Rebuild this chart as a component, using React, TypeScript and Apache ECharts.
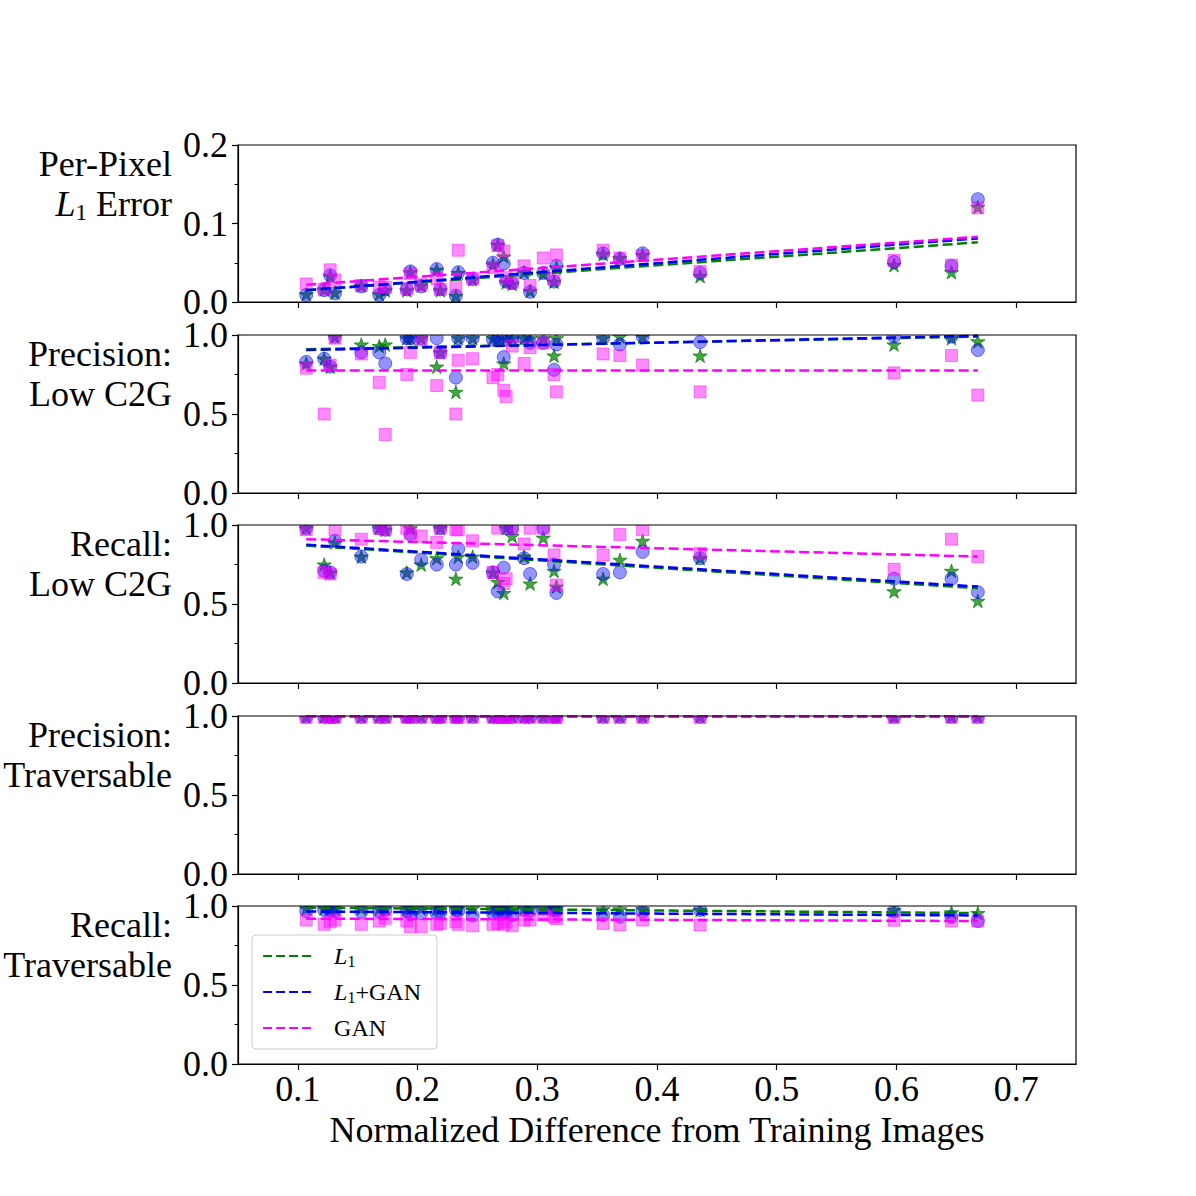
import React, { useEffect, useRef } from "react";
import * as echarts from "echarts";

// x: normalized difference from training images (one value per test image)
const X = [0.107, 0.122, 0.127, 0.131, 0.153, 0.168, 0.173, 0.191, 0.194, 0.203, 0.216, 0.219, 0.232, 0.234, 0.246, 0.263, 0.267, 0.272, 0.274, 0.279, 0.289, 0.294, 0.305, 0.314, 0.316, 0.355, 0.369, 0.388, 0.436, 0.598, 0.646, 0.668];

// Panel 1: per-pixel L1 error
const ERR_L1 = [0.010, 0.016, 0.033, 0.012, 0.021, 0.010, 0.015, 0.015, 0.038, 0.021, 0.041, 0.015, 0.008, 0.037, 0.029, 0.048, 0.073, 0.058, 0.025, 0.023, 0.038, 0.014, 0.036, 0.026, 0.044, 0.061, 0.056, 0.060, 0.033, 0.047, 0.038, 0.121];
const ERR_L1GAN = [0.009, 0.015, 0.034, 0.011, 0.020, 0.009, 0.016, 0.016, 0.039, 0.020, 0.042, 0.016, 0.008, 0.038, 0.029, 0.050, 0.073, 0.049, 0.026, 0.024, 0.037, 0.013, 0.037, 0.026, 0.046, 0.062, 0.055, 0.062, 0.037, 0.051, 0.046, 0.131];
const ERR_GAN = [0.023, 0.016, 0.041, 0.028, 0.021, 0.019, 0.019, 0.017, 0.036, 0.022, 0.030, 0.016, 0.020, 0.066, 0.030, 0.044, 0.072, 0.065, 0.031, 0.025, 0.046, 0.021, 0.056, 0.030, 0.060, 0.066, 0.056, 0.059, 0.039, 0.053, 0.047, 0.120];

// Panel 2: precision, low C2G
const PREC_C2G_L1 = [0.82, 0.85, 0.80, 0.99, 0.94, 0.93, 0.94, 0.98, 0.98, 0.98, 0.80, 0.89, 0.64, 0.98, 0.98, 0.98, 0.97, 0.82, 0.98, 0.98, 0.98, 0.98, 0.98, 0.87, 0.98, 0.98, 0.99, 0.99, 0.87, 0.94, 0.98, 0.96];
const PREC_C2G_L1GAN = [0.83, 0.85, 0.80, 0.99, 0.89, 0.89, 0.82, 0.98, 0.98, 0.98, 0.98, 0.89, 0.73, 0.98, 0.98, 0.97, 0.97, 0.86, 0.97, 0.98, 0.98, 0.95, 0.95, 0.78, 0.94, 0.98, 0.94, 0.99, 0.955, 0.99, 0.99, 0.905];
const PREC_C2G_GAN = [0.79, 0.50, 0.81, 0.98, 0.88, 0.70, 0.37, 0.75, 0.89, 0.97, 0.68, 0.89, 0.50, 0.84, 0.85, 0.73, 0.75, 0.65, 0.61, 0.93, 0.82, 0.92, 0.95, 0.75, 0.64, 0.88, 0.87, 0.81, 0.64, 0.76, 0.87, 0.62];

// Panel 3: recall, low C2G
const REC_C2G_L1 = [0.98, 0.75, 0.70, 0.89, 0.80, 0.98, 0.97, 0.70, 0.98, 0.75, 0.79, 0.98, 0.66, 0.80, 0.80, 0.70, 0.64, 0.57, 0.98, 0.93, 0.80, 0.63, 0.92, 0.71, 0.61, 0.66, 0.78, 0.90, 0.79, 0.58, 0.71, 0.52];
const REC_C2G_L1GAN = [0.98, 0.71, 0.70, 0.90, 0.80, 0.98, 0.97, 0.69, 0.94, 0.78, 0.75, 0.98, 0.75, 0.85, 0.76, 0.70, 0.58, 0.73, 0.98, 0.98, 0.79, 0.69, 0.98, 0.75, 0.57, 0.69, 0.70, 0.83, 0.79, 0.66, 0.66, 0.575];
const REC_C2G_GAN = [0.97, 0.70, 0.69, 0.97, 0.91, 0.98, 0.97, 0.98, 0.95, 0.93, 0.89, 0.98, 0.97, 0.97, 0.90, 0.70, 0.98, 0.63, 0.66, 0.98, 0.88, 0.98, 0.98, 0.81, 0.62, 0.81, 0.94, 0.97, 0.82, 0.72, 0.91, 0.80];

// Panel 4: precision, traversable
const PREC_TR_L1 = [0.996, 0.996, 0.996, 0.996, 0.996, 0.996, 0.996, 0.996, 0.996, 0.996, 0.996, 0.996, 0.996, 0.996, 0.996, 0.996, 0.996, 0.996, 0.996, 0.996, 0.996, 0.996, 0.996, 0.996, 0.996, 0.996, 0.996, 0.996, 0.996, 0.996, 0.996, 0.996];
const PREC_TR_L1GAN = [0.995, 0.995, 0.995, 0.995, 0.995, 0.995, 0.995, 0.995, 0.995, 0.995, 0.995, 0.995, 0.995, 0.995, 0.995, 0.995, 0.995, 0.995, 0.995, 0.995, 0.995, 0.995, 0.995, 0.995, 0.995, 0.995, 0.995, 0.995, 0.995, 0.995, 0.995, 0.995];
const PREC_TR_GAN = [0.993, 0.993, 0.993, 0.993, 0.993, 0.993, 0.993, 0.993, 0.993, 0.993, 0.993, 0.993, 0.993, 0.993, 0.993, 0.993, 0.993, 0.993, 0.993, 0.993, 0.993, 0.993, 0.993, 0.993, 0.993, 0.993, 0.993, 0.993, 0.993, 0.993, 0.993, 0.993];

// Panel 5: recall, traversable
const REC_TR_L1 = [0.985, 0.985, 0.985, 0.985, 0.985, 0.985, 0.985, 0.985, 0.985, 0.985, 0.985, 0.985, 0.985, 0.985, 0.985, 0.985, 0.985, 0.985, 0.985, 0.985, 0.985, 0.985, 0.985, 0.985, 0.985, 0.98, 0.98, 0.98, 0.975, 0.975, 0.96, 0.955];
const REC_TR_L1GAN = [0.968, 0.975, 0.97, 0.968, 0.964, 0.964, 0.975, 0.968, 0.947, 0.954, 0.954, 0.96, 0.975, 0.97, 0.94, 0.954, 0.96, 0.954, 0.96, 0.943, 0.975, 0.97, 0.985, 0.975, 0.97, 0.943, 0.932, 0.964, 0.975, 0.965, 0.93, 0.905];
const REC_TR_GAN = [0.911, 0.884, 0.90, 0.911, 0.884, 0.905, 0.922, 0.905, 0.869, 0.869, 0.884, 0.89, 0.90, 0.884, 0.875, 0.884, 0.89, 0.884, 0.90, 0.875, 0.911, 0.911, 0.943, 0.932, 0.92, 0.89, 0.88, 0.911, 0.88, 0.91, 0.905, 0.905];

// Trend (fit) lines, read at the ends of the x range
const TREND_X = [0.107, 0.668];
const TR_ERR = { L1: [0.015, 0.076], L1GAN: [0.015, 0.081], GAN: [0.022, 0.083] };
const TR_PREC_C2G = { L1: [0.91, 0.99], L1GAN: [0.905, 0.995], GAN: [0.775, 0.775] };
const TR_REC_C2G = { L1: [0.87, 0.60], L1GAN: [0.875, 0.61], GAN: [0.91, 0.80] };
const TR_PREC_TR = { L1: [0.999, 0.999], L1GAN: [0.999, 0.999], GAN: [0.998, 0.998] };
const TR_REC_TR = { L1: [0.99, 0.955], L1GAN: [0.965, 0.94], GAN: [0.92, 0.905] };

const X_TICKS = [0.1, 0.2, 0.3, 0.4, 0.5, 0.6, 0.7];
const METHODS = ["L1", "L1+GAN", "GAN"];

const PANELS = [
  { label: "{t|Per-Pixel}\n{i|L}{s|1}{t| Error}", max: 0.2, interval: 0.1, data: [ERR_L1, ERR_L1GAN, ERR_GAN], trend: TR_ERR },
  { label: "{t|Precision:}\n{t|Low C2G}", max: 1.0, interval: 0.5, data: [PREC_C2G_L1, PREC_C2G_L1GAN, PREC_C2G_GAN], trend: TR_PREC_C2G },
  { label: "{t|Recall:}\n{t|Low C2G}", max: 1.0, interval: 0.5, data: [REC_C2G_L1, REC_C2G_L1GAN, REC_C2G_GAN], trend: TR_REC_C2G },
  { label: "{t|Precision:}\n{t|Traversable}", max: 1.0, interval: 0.5, data: [PREC_TR_L1, PREC_TR_L1GAN, PREC_TR_GAN], trend: TR_PREC_TR },
  { label: "{t|Recall:}\n{t|Traversable}", max: 1.0, interval: 0.5, data: [REC_TR_L1, REC_TR_L1GAN, REC_TR_GAN], trend: TR_REC_TR },
];

const GRID_TOPS = [145, 335, 525, 716, 906];
const GRID_H = 158;
const FONT = "'Liberation Serif', 'DejaVu Serif', serif";
const FS = 36;

const COLORS = ["#008000", "#0000ff", "#ff00ff"];
const FILLS = ["rgba(0,128,0,0.72)", "rgba(0,0,255,0.42)", "rgba(255,0,255,0.45)"];
const EDGES = ["rgba(0,128,0,0.72)", "rgba(0,0,255,0.5)", "rgba(255,0,255,0.45)"];

// unit star outline (outer radius 1, inner 0.382), used as marker shape
const STAR_UNIT: number[][] = [];
for (let k = 0; k < 10; k++) {
  const r = k % 2 === 0 ? 1 : 0.382;
  const a = -Math.PI / 2 + (k * Math.PI) / 5;
  STAR_UNIT.push([r * Math.cos(a), r * Math.sin(a)]);
}

const RICH = {
  t: { fontSize: FS, fontFamily: FONT, color: "#000", lineHeight: 40 },
  i: { fontSize: FS, fontFamily: FONT, fontStyle: "italic", color: "#000", lineHeight: 40 },
  s: { fontSize: 23, fontFamily: FONT, color: "#000", lineHeight: 23, verticalAlign: "bottom" },
};

const LEG_RICH = {
  t: { fontSize: 24, fontFamily: FONT, color: "#000", lineHeight: 26 },
  i: { fontSize: 24, fontFamily: FONT, fontStyle: "italic", color: "#000", lineHeight: 26 },
  s: { fontSize: 16, fontFamily: FONT, color: "#000", lineHeight: 16, verticalAlign: "bottom" },
};

function markerRenderer(mi: number) {
  return (params: any, api: any) => {
    const p = api.coord([api.value(0), api.value(1)]);
    const style = { fill: FILLS[mi], stroke: EDGES[mi], lineWidth: 1 };
    if (mi === 0) {
      return {
        type: "polygon",
        shape: { points: STAR_UNIT.map(([dx, dy]) => [p[0] + dx * 7.5, p[1] + dy * 7.5 + 0.8]) },
        style,
      };
    }
    if (mi === 1) {
      return { type: "circle", shape: { cx: p[0], cy: p[1], r: 6.5 }, style };
    }
    return { type: "rect", shape: { x: p[0] - 6, y: p[1] - 6, width: 12, height: 12 }, style };
  };
}

export default function App() {
  const ref = useRef<HTMLDivElement>(null);
  useEffect(() => {
    const chart = echarts.init(ref.current!, null, { renderer: "svg" });
    const grids: any[] = [];
    const xAxes: any[] = [];
    const yAxes: any[] = [];
    const series: any[] = [];
    PANELS.forEach((p, gi) => {
      grids.push({
        left: 238,
        width: 838,
        top: GRID_TOPS[gi],
        height: gi === 0 ? 157 : GRID_H,
        show: true,
        borderColor: "#000",
        borderWidth: 1.2,
        backgroundColor: "transparent",
        z: 20,
      });
      const last = gi === PANELS.length - 1;
      xAxes.push({
        type: "value",
        gridIndex: gi,
        min: 0.05,
        max: 0.75,
        axisLine: { show: true, lineStyle: { color: "#000", width: 1.2 } },
        axisTick: { show: true, length: 6, customValues: X_TICKS, lineStyle: { color: "#000", width: 1.2 } },
        axisLabel: {
          show: last,
          customValues: X_TICKS,
          fontSize: FS,
          fontFamily: FONT,
          color: "#000",
          margin: 7,
          formatter: (v: number) => v.toFixed(1),
        },
        splitLine: { show: false },
        name: last ? "Normalized Difference from Training Images" : "",
        nameLocation: "middle",
        nameGap: 48,
        nameTextStyle: { fontSize: FS, fontFamily: FONT, color: "#000" },
      });
      yAxes.push({
        type: "value",
        gridIndex: gi,
        min: 0,
        max: p.max,
        interval: p.interval,
        axisLine: { show: true, lineStyle: { color: "#000", width: 1.2 } },
        axisTick: { show: true, length: 6, lineStyle: { color: "#000", width: 1.2 } },
        minorTick: { show: true, splitNumber: 2, length: 3.5, lineStyle: { color: "#000", width: 1 } },
        axisLabel: {
          fontSize: FS,
          fontFamily: FONT,
          color: "#000",
          margin: 10,
          formatter: (v: number) => v.toFixed(1),
        },
        splitLine: { show: false },
        minorSplitLine: { show: false },
        name: p.label,
        nameLocation: "middle",
        nameRotate: 0,
        nameGap: 66,
        nameTextStyle: {
          align: "right",
          verticalAlign: "middle",
          padding: [0, 0, 80, 0],
          rich: RICH,
        },
      });
      p.data.forEach((vals, mi) => {
        series.push({
          type: "custom",
          name: METHODS[mi] + " points",
          xAxisIndex: gi,
          yAxisIndex: gi,
          clip: true,
          renderItem: markerRenderer(mi),
          encode: { x: 0, y: 1 },
          data: X.map((x, k) => [x, vals[k]]),
          z: 2 + mi,
          silent: true,
        });
      });
      const keys = ["L1", "L1GAN", "GAN"];
      keys.forEach((k, mi) => {
        const ys = (p.trend as any)[k];
        series.push({
          type: "line",
          name: METHODS[mi],
          xAxisIndex: gi,
          yAxisIndex: gi,
          symbol: "none",
          showSymbol: false,
          data: TREND_X.map((x, j) => [x, ys[j]]),
          lineStyle: { color: COLORS[mi], width: 2.5, type: [10, 4.5] },
          itemStyle: { color: COLORS[mi] },
          z: 10 + mi,
          silent: true,
        });
      });
    });

    const option: any = {
      animation: false,
      backgroundColor: "#fff",
      textStyle: { fontFamily: FONT },
      grid: grids,
      xAxis: xAxes,
      yAxis: yAxes,
      series,
      legend: {
        data: METHODS,
        orient: "vertical",
        left: 252,
        top: 935,
        padding: [9, 16, 9, 10],
        itemWidth: 48,
        itemHeight: 14,
        itemGap: 11,
        selectedMode: false,
        itemStyle: { opacity: 0 },
        lineStyle: { width: 2.2, type: [9, 4] },
        backgroundColor: "rgba(255,255,255,0.8)",
        borderColor: "#cccccc",
        borderWidth: 1,
        borderRadius: 4,
        formatter: (name: string) =>
          name === "L1" ? "{i|L}{s|1}" : name === "L1+GAN" ? "{i|L}{s|1}{t|+GAN}" : "{t|GAN}",
        textStyle: { rich: LEG_RICH, padding: [0, 0, 0, 18] },
      },
    };
    chart.setOption(option);
    return () => chart.dispose();
  }, []);
  return (
    <div
      ref={ref}
      style={{ position: "fixed", left: 0, top: 0, width: 1196, height: 1196, background: "#fff" }}
    />
  );
}
